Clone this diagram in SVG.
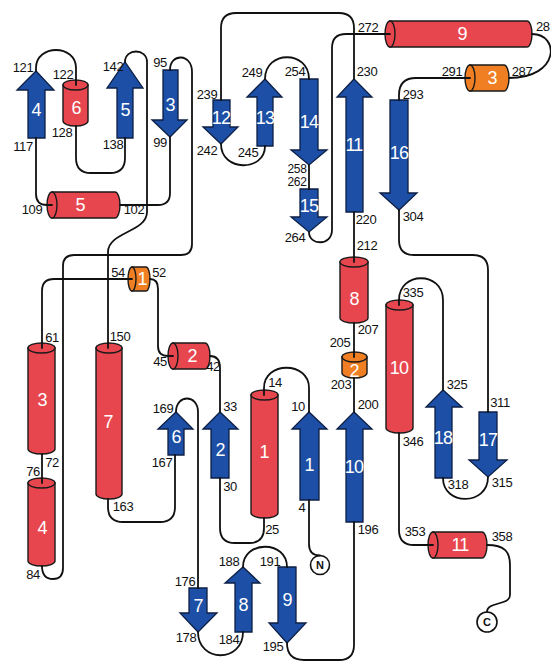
<svg xmlns="http://www.w3.org/2000/svg" width="551" height="663" viewBox="0 0 551 663">
<style>
.bg{fill:#ffffff}
.st{fill:#1c4fa5;stroke:#0d1f44;stroke-width:1.3;stroke-linejoin:miter}
.hx{fill:#e8464f;stroke:#1a1a1a;stroke-width:1.4}
.or{fill:#ef7f22;stroke:#1a1a1a;stroke-width:1.4}
.ln{fill:none;stroke:#111;stroke-width:1.8;stroke-linecap:round;stroke-linejoin:round}
.n{font-family:"Liberation Sans",Arial,sans-serif;font-size:13px;fill:#111;text-anchor:middle;letter-spacing:-0.4px}
.w{font-family:"Liberation Sans",Arial,sans-serif;font-size:18px;fill:#fff;text-anchor:middle;letter-spacing:-0.8px}
.t{font-family:"Liberation Sans",Arial,sans-serif;font-size:11px;font-weight:bold;fill:#111;text-anchor:middle}
.term{fill:#fff;stroke:#111;stroke-width:1.6}
</style>
<rect class="bg" x="0" y="0" width="551" height="663"/>

<!-- strands -->
<g id="strand1"><polygon class="st" points="300,500 300,429 292,429 309,412 327,429 319,429 319,500"/><text class="w" x="309" y="471">1</text></g>
<g id="strand2"><polygon class="st" points="211,478 211,429 203,429 220,412 238,429 229,429 229,478"/><text class="w" x="220" y="456">2</text></g>
<g id="strand3"><polygon class="st" points="163,70 178,70 178,120 187,120 170,137 152,120 163,120"/><text class="w" x="170" y="111">3</text></g>
<g id="strand4"><polygon class="st" points="28,138 28,90 17,90 36,71 54,90 45,90 45,138"/><text class="w" x="36" y="116">4</text></g>
<g id="strand5"><polygon class="st" points="117,138 117,88 107,88 125,62 143,88 133,88 133,138"/><text class="w" x="125" y="116">5</text></g>
<g id="strand6"><polygon class="st" points="168,455 168,429 158,429 176,412 193,429 184,429 184,455"/><text class="w" x="176" y="443">6</text></g>
<g id="strand7"><polygon class="st" points="189,588 207,588 207,613 217,613 198,632 180,613 189,613"/><text class="w" x="198" y="612">7</text></g>
<g id="strand8"><polygon class="st" points="235,632 235,583 225,583 243,567 260,583 252,583 252,632"/><text class="w" x="243" y="611">8</text></g>
<g id="strand9"><polygon class="st" points="278,567 296,567 296,623 306,623 287,643 269,623 278,623"/><text class="w" x="287" y="606">9</text></g>
<g id="strand10"><polygon class="st" points="346,522 346,429 337,429 354,412 372,429 363,429 363,522"/><text class="w" x="354" y="473">10</text></g>
<g id="strand11"><polygon class="st" points="346,212 346,97 337,97 354,79 372,97 363,97 363,212"/><text class="w" x="354" y="151">11</text></g>
<g id="strand12"><polygon class="st" points="213,100 230,100 230,127 238,127 221,144 203,127 213,127"/><text class="w" x="221" y="124">12</text></g>
<g id="strand13"><polygon class="st" points="257,146 257,97 247,97 265,79 282,97 273,97 273,146"/><text class="w" x="265" y="124">13</text></g>
<g id="strand14"><polygon class="st" points="300,79 318,79 318,150 327,150 309,165 291,150 300,150"/><text class="w" x="309" y="128">14</text></g>
<g id="strand15"><polygon class="st" points="300,189 318,189 318,217 327,217 309,232 291,217 300,217"/><text class="w" x="309" y="212">15</text></g>
<g id="strand16"><polygon class="st" points="390,100 408,100 408,193 417,193 399,210 380,193 390,193"/><text class="w" x="399" y="159">16</text></g>
<g id="strand17"><polygon class="st" points="479,412 497,412 497,460 507,460 488,477 469,460 479,460"/><text class="w" x="488" y="446">17</text></g>
<g id="strand18"><polygon class="st" points="435,478 435,407 426,407 443,390 462,407 452,407 452,478"/><text class="w" x="443" y="444">18</text></g>

<!-- vertical helices -->
<g id="helix1"><path class="hx" d="M251,395 V513 A13.5,5 0 0 0 278,513 V395 Z"/><ellipse class="hx" cx="264.5" cy="395" rx="13.5" ry="5"/><text class="w" x="264" y="458">1</text></g>
<g id="helix3"><path class="hx" d="M28,348 V449 A13.5,5 0 0 0 55,449 V348 Z"/><ellipse class="hx" cx="41.5" cy="348" rx="13.5" ry="5"/><text class="w" x="42" y="406">3</text></g>
<g id="helix4"><path class="hx" d="M28,483 V561 A13.5,5 0 0 0 55,561 V483 Z"/><ellipse class="hx" cx="41.5" cy="483" rx="13.5" ry="5"/><text class="w" x="42" y="534">4</text></g>
<g id="helix6"><path class="hx" d="M63,85 V121 A12.5,5 0 0 0 88,121 V85 Z"/><ellipse class="hx" cx="75.5" cy="85" rx="12.5" ry="5"/><text class="w" x="76" y="114">6</text></g>
<g id="helix7"><path class="hx" d="M96,348 V494 A13,5 0 0 0 122,494 V348 Z"/><ellipse class="hx" cx="109" cy="348" rx="13" ry="5"/><text class="w" x="108" y="428">7</text></g>
<g id="helix8"><path class="hx" d="M340,262 V318 A14,5 0 0 0 368,318 V262 Z"/><ellipse class="hx" cx="354" cy="262" rx="14" ry="5"/><text class="w" x="354" y="305">8</text></g>
<g id="helix10"><path class="hx" d="M386,305 V428 A13.5,5 0 0 0 413,428 V305 Z"/><ellipse class="hx" cx="399.5" cy="305" rx="13.5" ry="5"/><text class="w" x="399" y="374">10</text></g>
<g id="helix310-2"><path class="or" d="M342,357 V373 A12.5,5 0 0 0 367,373 V357 Z"/><ellipse class="or" cx="354.5" cy="357" rx="12.5" ry="5"/><text class="w" x="354" y="377">2</text></g>

<!-- horizontal helices -->
<g id="helix2"><path class="hx" d="M173,343 H205 A5,13 0 0 1 205,369 H173 Z"/><ellipse class="hx" cx="173" cy="356" rx="5" ry="13"/><text class="w" x="192" y="362">2</text></g>
<g id="helix5"><path class="hx" d="M52,192 H115 A5,13 0 0 1 115,218 H52 Z"/><ellipse class="hx" cx="52" cy="205" rx="5" ry="13"/><text class="w" x="80" y="211">5</text></g>
<g id="helix9"><path class="hx" d="M390,21 H527 A5,13 0 0 1 527,47 H390 Z"/><ellipse class="hx" cx="390" cy="34" rx="5" ry="13"/><text class="w" x="462" y="40">9</text></g>
<g id="helix11"><path class="hx" d="M433,532 H482 A5,13 0 0 1 482,558 H433 Z"/><ellipse class="hx" cx="433" cy="545" rx="5" ry="13"/><text class="w" x="460" y="551">11</text></g>
<g id="helix310-1"><path class="or" d="M132,267 H146 A4,12 0 0 1 146,291 H132 Z"/><ellipse class="or" cx="132" cy="279" rx="4" ry="12"/><text class="w" x="142" y="285">1</text></g>
<g id="helix310-3"><path class="or" d="M470,65 H504 A5,13 0 0 1 504,91 H470 Z"/><ellipse class="or" cx="470" cy="78" rx="5" ry="13"/><text class="w" x="492" y="84">3</text></g>

<!-- termini -->
<g id="Nterm"><circle class="term" cx="320" cy="565" r="9.5"/><text class="t" x="320" y="569">N</text></g>
<g id="Cterm"><circle class="term" cx="487" cy="622" r="10"/><text class="t" x="487" y="626">C</text></g>

<!-- connectors -->
<g id="connectors">
<path class="ln" d="M309,500 V544 Q309,555.5 320,555.5"/>
<path class="ln" d="M309,412 V388 C309,361 264,361 264,388 V395"/>
<path class="ln" d="M264,518 V528 Q264,543 249,543 H235 Q220,543 220,528 V478"/>
<path class="ln" d="M220,412 V368 Q220,356 210,356"/>
<path class="ln" d="M173,356 H168 Q158,356 158,346 V289 Q158,279 150,279"/>
<path class="ln" d="M132,279 H54 Q42,279 42,291 V348"/>
<path class="ln" d="M42,454 V483"/>
<path class="ln" d="M42,566 Q42,579 53,579 Q63,579 63,568 V266 Q63,255 74,255 H181 Q192,255 192,244 V72 C192,53 170,53 170,70"/>
<path class="ln" d="M170,137 V193 Q170,205 158,205 H120"/>
<path class="ln" d="M52,205 H47 Q36,205 36,194 V138"/>
<path class="ln" d="M36,71 V68 C36,44 76,44 76,68 V85"/>
<path class="ln" d="M76,126 V158 Q76,173 91,173 H110 Q125,173 125,158 V138"/>
<path class="ln" d="M125,62 C125,48 147,48 147,62 V212 C147,232 108,232 108,252 V348"/>
<path class="ln" d="M108,499 V507 Q108,522 123,522 H160 Q175,522 175,507 V455"/>
<path class="ln" d="M176,412 C176,394 198,394 198,412 V588"/>
<path class="ln" d="M198,632 C198,663 243,663 243,632"/>
<path class="ln" d="M243,567 C243,540 287,540 287,567"/>
<path class="ln" d="M287,643 Q287,660 304,660 H339 Q354,660 354,645 V522"/>
<path class="ln" d="M354,412 V378"/>
<path class="ln" d="M354,357 V323"/>
<path class="ln" d="M354,262 V212"/>
<path class="ln" d="M354,79 V28 Q354,13 339,13 H236 Q221,13 221,28 V100"/>
<path class="ln" d="M221,144 C221,172 265,172 265,146"/>
<path class="ln" d="M265,79 C265,50 309,50 309,79"/>
<path class="ln" d="M309,165 V189"/>
<path class="ln" d="M309,232 C309,246 332,246 332,230 V48 Q332,34 346,34 H390"/>
<path class="ln" d="M532,34 C560,34 560,78 509,78"/>
<path class="ln" d="M470,78 H416 Q399,78 399,95 V100"/>
<path class="ln" d="M399,210 V240 Q399,255 414,255 H473 Q488,255 488,270 V412"/>
<path class="ln" d="M488,477 C488,506 443,506 443,478"/>
<path class="ln" d="M443,390 V300 C443,271 399,271 399,300 V305"/>
<path class="ln" d="M399,433 V530 Q399,545 414,545 H433"/>
<path class="ln" d="M487,545 C505,545 510,552 510,565 V595 C510,606 487,601 487,612"/>
</g>

<!-- residue numbers -->
<g id="labels">
<text class="n" x="23" y="72">121</text>
<text class="n" x="23" y="151">117</text>
<text class="n" x="63" y="79">122</text>
<text class="n" x="62" y="137">128</text>
<text class="n" x="113" y="71">142</text>
<text class="n" x="113" y="149">138</text>
<text class="n" x="160" y="67">95</text>
<text class="n" x="160" y="147">99</text>
<text class="n" x="32" y="214">109</text>
<text class="n" x="134" y="214">102</text>
<text class="n" x="207" y="99">239</text>
<text class="n" x="207" y="155">242</text>
<text class="n" x="252" y="77">249</text>
<text class="n" x="248" y="157">245</text>
<text class="n" x="295" y="76">254</text>
<text class="n" x="297" y="173" style="font-size:12px">258</text>
<text class="n" x="297" y="186" style="font-size:12px">262</text>
<text class="n" x="295" y="242">264</text>
<text class="n" x="367" y="76">230</text>
<text class="n" x="366" y="224">220</text>
<text class="n" x="368" y="32">272</text>
<text class="n" x="536" y="31" style="text-anchor:start">28</text>
<text class="n" x="452" y="76">291</text>
<text class="n" x="522" y="76">287</text>
<text class="n" x="413" y="99">293</text>
<text class="n" x="413" y="221">304</text>
<text class="n" x="367" y="250">212</text>
<text class="n" x="368" y="334">207</text>
<text class="n" x="340" y="347">205</text>
<text class="n" x="341" y="389">203</text>
<text class="n" x="368" y="409">200</text>
<text class="n" x="368" y="534">196</text>
<text class="n" x="413" y="297">335</text>
<text class="n" x="413" y="446">346</text>
<text class="n" x="457" y="389">325</text>
<text class="n" x="500" y="407">311</text>
<text class="n" x="458" y="489">318</text>
<text class="n" x="502" y="487">315</text>
<text class="n" x="415" y="536">353</text>
<text class="n" x="502" y="541">358</text>
<text class="n" x="118" y="277">54</text>
<text class="n" x="159" y="277">52</text>
<text class="n" x="52" y="342">61</text>
<text class="n" x="120" y="341">150</text>
<text class="n" x="160" y="366">45</text>
<text class="n" x="213" y="371">42</text>
<text class="n" x="275" y="387">14</text>
<text class="n" x="230" y="411">33</text>
<text class="n" x="298" y="411">10</text>
<text class="n" x="163" y="413">169</text>
<text class="n" x="162" y="467">167</text>
<text class="n" x="230" y="491">30</text>
<text class="n" x="302" y="512">4</text>
<text class="n" x="272" y="534">25</text>
<text class="n" x="52" y="467">72</text>
<text class="n" x="33" y="476">76</text>
<text class="n" x="33" y="579">84</text>
<text class="n" x="123" y="511">163</text>
<text class="n" x="185" y="586">176</text>
<text class="n" x="186" y="642">178</text>
<text class="n" x="229" y="644">184</text>
<text class="n" x="229" y="566">188</text>
<text class="n" x="270" y="566">191</text>
<text class="n" x="273" y="651">195</text>
</g>
</svg>
